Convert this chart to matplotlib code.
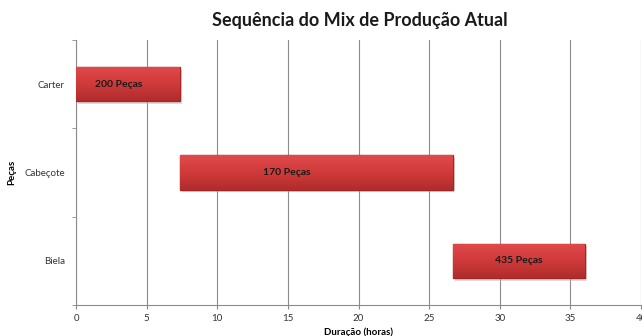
import matplotlib
matplotlib.use('Agg')
import numpy as np
import matplotlib.pyplot as plt
import matplotlib.colors as mcolors

# Data
pecas = ["Carter", "Cabeçote", "Biela"]
inicio = [0.0, 7.36, 26.66]
duracao = [7.36, 19.30, 9.34]
rotulos = ["200 Peças", "170 Peças", "435 Peças"]

plt.rcParams['font.family'] = ['Lato', 'DejaVu Sans']

fig = plt.figure(figsize=(6.42, 3.36), dpi=100)
ax = fig.add_axes([0.1184, 0.0923, 0.8802, 0.7887])

ypos = list(range(len(pecas)))
# shadow under the bars
ax.barh([y + 0.03 for y in ypos], duracao, left=[s + 0.15 for s in inicio],
        height=0.39, color='#bbbbbb', alpha=0.5, zorder=2)
bars = ax.barh(ypos, duracao, left=inicio, height=0.39, color='#d33b3b',
               edgecolor='#a32626', linewidth=1.0, zorder=3)

# vertical gradient inside each bar (light on top, darker at the bottom)
cmap = mcolors.LinearSegmentedColormap.from_list("grad", ["#e24a4a", "#d03a3a", "#b02c2c"])
grad = np.linspace(0, 1, 64).reshape(-1, 1)
for b in bars:
    x0, y0 = b.get_x(), b.get_y()
    w, h = b.get_width(), b.get_height()
    im = ax.imshow(grad, cmap=cmap, aspect='auto', extent=(x0, x0 + w, y0, y0 + h),
                   origin='lower', zorder=3.5)
    im.set_clip_path(b)

# label position along the bar (fraction)
frac = [0.41, 0.39, 0.5]
for y, s, d, t, f in zip(ypos, inicio, duracao, rotulos, frac):
    ax.text(s + d * f, y, t, ha='center', va='center', fontsize=7.5,
            fontweight='bold', color='#1a1a1a', zorder=4)

ax.set_xlim(0, 40)
ax.set_ylim(len(pecas) - 0.5, -0.5)
ax.set_xticks(range(0, 45, 5))
ax.set_yticks(ypos)
ax.set_yticklabels(pecas)
ax.set_yticks([-0.5, 0.5, 1.5, 2.5], minor=True)
ax.tick_params(axis='y', which='major', length=0, labelsize=7, colors='#333333', pad=8)
ax.tick_params(axis='y', which='minor', length=3, color='#888888')
ax.tick_params(axis='x', length=3, color='#888888', labelsize=7, colors='#333333')
ax.grid(axis='x', color='#8c8c8c', linewidth=0.8, zorder=0)
ax.set_axisbelow(True)

for side in ['top', 'right']:
    ax.spines[side].set_visible(False)
for side in ['left', 'bottom']:
    ax.spines[side].set_color('#8c8c8c')

ax.set_xlabel("Duração (horas)", fontsize=7, fontweight='bold', labelpad=3)
ax.set_ylabel("Peças", fontsize=7, fontweight='bold', labelpad=6)
fig.suptitle("Sequência do Mix de Produção Atual", x=0.56, y=0.965,
             fontsize=13, fontweight='bold', color='#1a1a1a')

fig.savefig("out.png", dpi=100)
